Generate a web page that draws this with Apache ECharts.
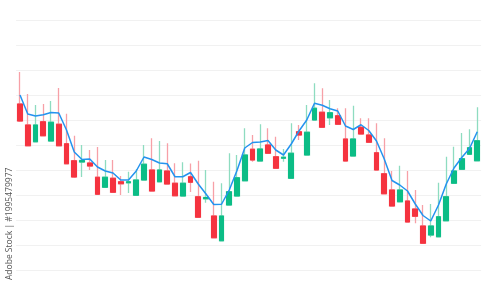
<!DOCTYPE html>
<html>
<head>
<meta charset="utf-8">
<script src="https://cdn.jsdelivr.net/npm/echarts@6/dist/echarts.min.js"></script>
<style>html,body{margin:0;padding:0;background:#fff;}#c{width:500px;height:282px;}</style>
</head>
<body>
<div id="c"></div>
<script>
const opens  = [66.4,58.0,51.3,59.3,51.6,58.3,50.5,43.7,43.2,42.8,37.1,33.1,36.7,35.3,34.9,29.9,36.0,40.0,35.3,39.6,34.7,29.6,37.3,29.3,28.5,21.6,11.7,26.0,29.6,35.7,48.3,43.6,50.0,45.3,44.7,36.7,55.3,46.0,60.0,63.1,60.9,61.7,52.4,45.6,57.1,54.0,46.9,38.5,32.0,27.3,27.6,24.4,17.6,14.0,13.3,19.7,34.7,40.3,46.3,43.7];
const closes = [59.6,49.7,58.0,53.7,59.1,49.7,42.5,37.2,43.8,41.6,30.3,37.1,31.1,34.5,35.3,36.0,42.3,31.6,40.0,34.4,29.7,34.7,35.1,21.1,29.0,12.9,21.6,31.3,36.9,46.0,44.0,48.4,46.7,40.7,45.1,46.7,54.0,55.1,64.7,57.1,62.9,58.3,43.6,52.4,54.4,51.1,40.0,30.5,25.6,32.0,19.2,21.5,10.7,17.6,21.3,29.3,39.6,44.5,48.9,51.7];
const lows   = [59.2,49.6,51.2,53.6,51.4,49.6,42.4,36.8,37.2,40.0,30.0,32.8,30.8,30.0,30.8,29.8,35.8,31.4,35.2,34.2,29.6,29.4,31.2,20.8,26.9,12.8,11.6,25.8,29.4,35.6,43.3,43.4,46.4,40.4,43.3,36.6,52.0,45.8,59.8,57.0,58.0,58.2,43.4,45.4,54.2,51.0,39.8,30.4,25.4,27.2,19.0,18.7,10.6,13.1,13.2,19.6,34.6,40.2,46.2,43.6];
const highs  = [79.2,70.4,66.0,66.4,67.6,72.8,62.5,53.7,50.0,48.0,49.2,44.0,44.0,37.6,39.3,40.4,50.0,52.7,51.6,50.7,42.7,43.1,42.6,43.7,40.0,35.3,34.7,46.7,46.0,56.7,54.0,58.3,56.7,53.3,48.4,58.7,58.0,66.0,74.7,72.7,68.0,64.7,64.7,65.7,60.7,60.7,58.7,52.7,39.6,41.7,39.6,32.0,26.0,26.4,34.9,45.3,49.3,54.8,56.3,65.1];
const maLine = [70.0,62.4,61.6,62.1,63.0,62.8,56.0,47.2,44.2,44.4,41.2,39.6,38.8,36.0,36.0,39.6,45.2,44.2,42.8,42.5,37.3,37.3,39.0,34.4,30.4,26.2,26.3,32.0,39.8,48.8,51.0,51.2,51.8,48.0,46.0,50.4,55.6,60.0,66.7,65.9,64.5,63.6,57.6,56.2,58.1,55.8,51.6,44.4,35.8,34.0,31.6,26.4,21.8,19.6,26.0,34.4,40.8,45.0,48.6,55.3];
const categories = opens.map((_, i) => 'D' + (i + 1));
const watermarkId = 'Adobe Stock | #1995479977';

const wickData = opens.map((o, i) => [o, closes[i], lows[i], highs[i]]);
const bodyData = opens.map((o, i) => [o, closes[i], Math.min(o, closes[i]), Math.max(o, closes[i])]);

const RED = '#f5333f', GREEN = '#0bbd86', RED_W = '#f7a0a7', GREEN_W = '#8edcc0', BLUE = '#2493ef';

const chart = echarts.init(document.getElementById('c'), null, {renderer: 'canvas'});
chart.setOption({
  animation: false,
  backgroundColor: '#ffffff',
  grid: {left: 16.125, right: 18.875, top: 20, bottom: 12},
  xAxis: {
    type: 'category', data: categories, boundaryGap: true,
    axisLine: {show: false}, axisTick: {show: false}, axisLabel: {show: false}, splitLine: {show: false}
  },
  yAxis: {
    type: 'value', min: 0, max: 100, interval: 10,
    axisLine: {show: false}, axisTick: {show: false}, axisLabel: {show: false},
    splitLine: {show: true, lineStyle: {color: '#f1f1f1', width: 1}}
  },
  series: [
    {
      type: 'candlestick', data: wickData, barWidth: 5.4,
      itemStyle: {color: GREEN_W, color0: RED_W, borderColor: GREEN_W, borderColor0: RED_W, borderWidth: 1.3}
    },
    {
      type: 'candlestick', data: bodyData, barWidth: 5.4,
      itemStyle: {color: GREEN, color0: RED, borderColor: GREEN, borderColor0: RED, borderWidth: 1}
    },
    {
      type: 'line', data: maLine, showSymbol: false, symbol: 'none', smooth: false,
      lineStyle: {color: BLUE, width: 1.5}, z: 5
    }
  ],
  graphic: [
    {
      type: 'text', left: 5, bottom: 2, rotation: Math.PI / 2,
      style: {text: watermarkId, fill: '#555', font: '8.5px "Open Sans", sans-serif'}
    }
  ]
});
</script>
</body>
</html>
